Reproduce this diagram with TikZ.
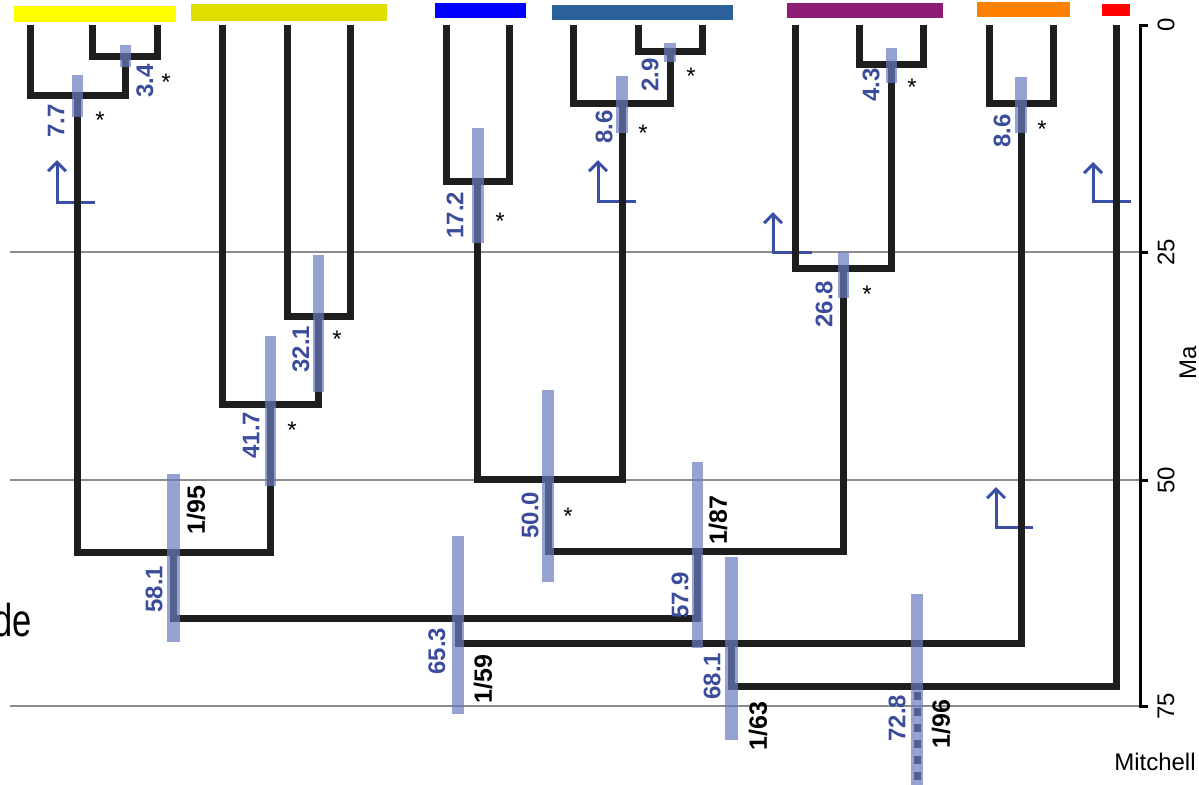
\documentclass[tikz,border=0pt]{standalone}
\usepackage{fontspec}
\setmainfont{Liberation Sans}
\usetikzlibrary{arrows.meta}

\definecolor{treeblack}{RGB}{30,30,30}
\definecolor{hpdblue}{RGB}{105,124,191}
\definecolor{agetext}{RGB}{59,76,155}
\definecolor{arrowblue}{RGB}{58,79,163}
\definecolor{gridgray}{RGB}{140,140,140}
\definecolor{cladeA}{RGB}{255,255,0}
\definecolor{cladeB}{RGB}{222,222,0}
\definecolor{cladeC}{RGB}{0,0,255}
\definecolor{cladeD}{RGB}{44,96,153}
\definecolor{cladeE}{RGB}{142,27,116}
\definecolor{cladeF}{RGB}{255,128,0}
\definecolor{cladeG}{RGB}{255,0,0}

\begin{document}
\begin{tikzpicture}[x=0.5pt,y=-0.5pt,
  branch/.style={draw=treeblack, line width=3.5pt, line join=miter},
  rootbranch/.style={draw=treeblack, line width=3.5pt, dash pattern=on 4pt off 4pt, dash phase=-3pt},
  hpd/.style={fill=hpdblue, fill opacity=0.7},
  age/.style={rotate=90, inner sep=0pt, text=agetext, font=\fontsize{12}{14}\selectfont\bfseries},
  support/.style={rotate=90, inner sep=0pt, text=black, font=\fontsize{12.5}{14}\selectfont\bfseries},
  star/.style={anchor=north, inner sep=0pt, font=\fontsize{12}{14}\selectfont},
  gridline/.style={draw=gridgray, line width=0.75pt},
  axisline/.style={draw=black, line width=1.5pt},
  axislabel/.style={inner sep=0pt, font=\fontsize{12}{14}\selectfont},
  shiftarrow/.style={draw=arrowblue, line width=1.5pt, -{Straight Barb[length=4.5pt,width=9pt]}}
]
\useasboundingbox (0,0) rectangle (1199,784);

% time grid
\draw[gridline] (10,252) -- (1140,252);
\draw[gridline] (10,480) -- (1140,480);
\draw[gridline] (10,706) -- (1140,706);

% shift markers
\coordinate (s1r) at (95,202);   \coordinate (s1t) at (57,160);
\coordinate (s2r) at (636,201);  \coordinate (s2t) at (598,160);
\coordinate (s3r) at (812,252);  \coordinate (s3t) at (773,212);
\coordinate (s4r) at (1033,527); \coordinate (s4t) at (996,487);
\coordinate (s5r) at (1131,201); \coordinate (s5t) at (1093,162);
\foreach \s in {1,...,5} \draw[shiftarrow] (s\s r) -| (s\s t);

% tips
\coordinate (a1) at (30,25);   \coordinate (a2) at (92,25);   \coordinate (a3) at (157,25);
\coordinate (b1) at (222,25);  \coordinate (b2) at (287,25);  \coordinate (b3) at (350,25);
\coordinate (c1) at (446,25);  \coordinate (c2) at (509,25);
\coordinate (d1) at (573,25);  \coordinate (d2) at (638,25);  \coordinate (d3) at (702,25);
\coordinate (e1) at (795,25);  \coordinate (e2) at (859,25);  \coordinate (e3) at (923,25);
\coordinate (f1) at (989,25);  \coordinate (f2) at (1053,25);
\coordinate (g1) at (1116,25);

% internal nodes (x, depth)
\coordinate (nA1) at (125,56);
\coordinate (nA2) at (77,95);
\coordinate (nB1) at (318,316);
\coordinate (nB2) at (270,404);
\coordinate (nAB) at (173,552);
\coordinate (nC) at (477,181);
\coordinate (nD1) at (670,51);
\coordinate (nD2) at (622,103);
\coordinate (nCD) at (548,479);
\coordinate (nE1) at (891,64);
\coordinate (nE2) at (843,268);
\coordinate (nCDE) at (697,551);
\coordinate (nF) at (1021,103);
\coordinate (n65) at (458,618);
\coordinate (n68) at (731,643);
\coordinate (n72) at (917,686);
\coordinate (root) at (917,790);

% branches
\draw[branch] (a2) |- (nA1) -| (a3);
\draw[branch] (a1) |- (nA2) -| (nA1);
\draw[branch] (b2) |- (nB1) -| (b3);
\draw[branch] (b1) |- (nB2) -| (nB1);
\draw[branch] (nA2) |- (nAB) -| (nB2);
\draw[branch] (c1) |- (nC) -| (c2);
\draw[branch] (d2) |- (nD1) -| (d3);
\draw[branch] (d1) |- (nD2) -| (nD1);
\draw[branch] (nC) |- (nCD) -| (nD2);
\draw[branch] (e2) |- (nE1) -| (e3);
\draw[branch] (e1) |- (nE2) -| (nE1);
\draw[branch] (nCD) |- (nCDE) -| (nE2);
\draw[branch] (f1) |- (nF) -| (f2);
\draw[branch] (nAB) |- (n65) -| (nCDE);
\draw[branch] (n65) |- (n68) -| (nF);
\draw[branch] (n68) |- (n72) -| (g1);
\draw[rootbranch] (n72) -- (root);

% 95% intervals of node ages
\fill[hpd] (119.5,45) rectangle (131,67);
\fill[hpd] (71.5,75) rectangle (83,117);
\fill[hpd] (312.5,255) rectangle (324,392);
\fill[hpd] (264.5,336) rectangle (276,486);
\fill[hpd] (167,474) rectangle (180,642);
\fill[hpd] (471.5,128) rectangle (483.5,243);
\fill[hpd] (663.5,43) rectangle (676,62);
\fill[hpd] (615.5,76) rectangle (628,133);
\fill[hpd] (542,390) rectangle (554,582);
\fill[hpd] (885.5,48) rectangle (897,83);
\fill[hpd] (837.5,252) rectangle (849,298);
\fill[hpd] (691.5,462) rectangle (703,648);
\fill[hpd] (1015,77) rectangle (1027,133);
\fill[hpd] (452,536) rectangle (464,714);
\fill[hpd] (725,557) rectangle (738,740);
\fill[hpd] (911,594) rectangle (923,790);

% node ages
\node[age] (tA1) at (145,81) {3.4};
\node[age] (tA2) at (56,121) {7.7};
\node[age] (tB1) at (301,349) {32.1};
\node[age] (tB2) at (251,435) {41.7};
\node[age] (tAB) at (154,589) {58.1};
\node[age] (tC) at (455,215) {17.2};
\node[age] (tD1) at (650,75) {2.9};
\node[age] (tD2) at (604,127) {8.6};
\node[age] (tCD) at (530,515) {50.0};
\node[age] (tE1) at (871,85) {4.3};
\node[age] (tE2) at (824,304) {26.8};
\node[age] (tCDE) at (680,595) {57.9};
\node[age] (tF) at (1002,131) {8.6};
\node[age] (t65) at (437,651) {65.3};
\node[age] (t68) at (712,676) {68.1};
\node[age] (t72) at (897,718) {72.8};

% support values
\node[support] (pAB) at (196,510) {1/95};
\node[support] (pCDE) at (718,520) {1/87};
\node[support] (p65) at (483,679) {1/59};
\node[support] (p68) at (758,726) {1/63};
\node[support] (p72) at (941,724) {1/96};

% fully supported nodes
\node[star] (xA2) at (100,112) {*};
\node[star] (xA1) at (166,74) {*};
\node[star] (xB1) at (337,331) {*};
\node[star] (xB2) at (292,422) {*};
\node[star] (xC) at (500,213) {*};
\node[star] (xD1) at (691,68) {*};
\node[star] (xD2) at (643,125) {*};
\node[star] (xCD) at (568,508) {*};
\node[star] (xE1) at (912,79) {*};
\node[star] (xE2) at (867,286) {*};
\node[star] (xF) at (1042,121) {*};

% clade colour bars
\fill[cladeA] (14,6) rectangle (176,22);
\fill[cladeB] (191,4) rectangle (387,21);
\fill[cladeC] (435,3) rectangle (526,18);
\fill[cladeD] (552,5) rectangle (733,20);
\fill[cladeE] (787,3) rectangle (943,18);
\fill[cladeF] (977,2) rectangle (1070,17);
\fill[cladeG] (1102,4) rectangle (1130,16);

% time axis
\draw[axisline] (1140,25) -- (1140,706);
\foreach \y/\l in {25/0,252/25,480/50,706/75}{
  \draw[axisline] (1139,\y) -- (1148,\y);
  \node[axislabel, rotate=90] (ax\l) at (1166,\y) {\l};
}
\node[axislabel, rotate=90] (ma) at (1188,363) {Ma};

\node[axislabel, anchor=east] (credit) at (1196,762) {Mitchell};
\node[inner sep=0pt, anchor=base east, xscale=0.75, font=\fontsize{23}{27}\selectfont] (side) at (32,636) {de};
\end{tikzpicture}
\end{document}
